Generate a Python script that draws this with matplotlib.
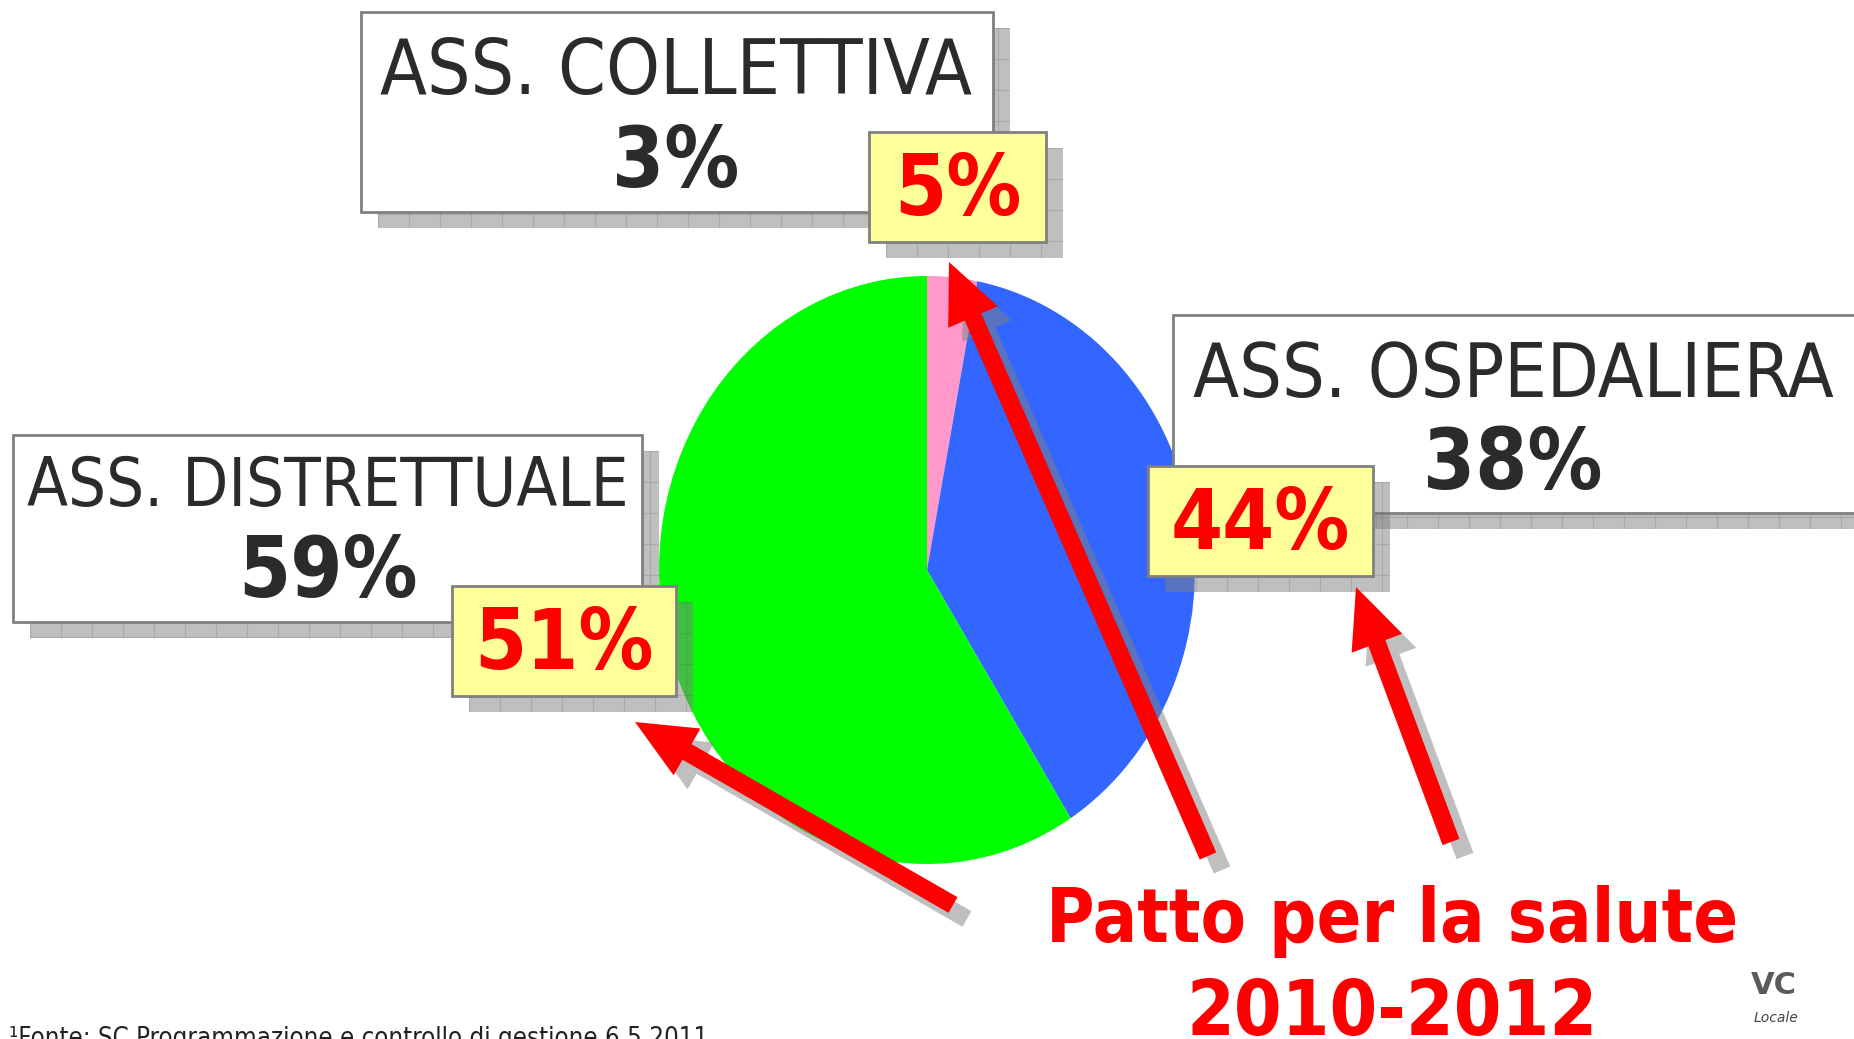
import matplotlib.pyplot as plt
import matplotlib.patches as mpatches
import numpy as np

# dati
categorie = ["ASS. COLLETTIVA", "ASS. OSPEDALIERA", "ASS. DISTRETTUALE"]
quota_attuale = [3, 38, 59]
quota_patto = [5, 44, 51]
colori = ["#ff99cc", "#3366ff", "#00ff00"]
titolo_patto = ["Patto per la salute", "2010-2012"]
nota = "\u00b9Fonte: SC Programmazione e controllo di gestione 6.5.2011"

W, H = 1854, 1039
fig = plt.figure(figsize=(W / 100, H / 100), dpi=100)
FONT = dict(family="DejaVu Sans", stretch="condensed")

# torta (leggermente ovale come nell'originale)
cx, cy, rx, ry = 927, 570, 268, 294
ax_pie = fig.add_axes([(cx - rx) / W, (H - cy - ry) / H, 2 * rx / W, 2 * ry / H], zorder=1)
ax_pie.pie(quota_attuale, colors=colori, startangle=90, counterclock=False,
           wedgeprops=dict(linewidth=0))
ax_pie.set_aspect('auto')
ax_pie.set_xlim(-1, 1)
ax_pie.set_ylim(-1, 1)
ax_pie.axis('off')

# livello sopra in pixel
ax = fig.add_axes([0, 0, 1, 1], zorder=2)
ax.set_xlim(0, W)
ax.set_ylim(H, 0)
ax.axis('off')


def box(x0, y0, x1, y1, face, z, dx=17, dy=16):
    sh = mpatches.Rectangle((x0 + dx, y0 + dy), x1 - x0, y1 - y0, fc='#808080',
                            alpha=0.5, lw=0, zorder=z)
    ax.add_patch(sh)
    for gx in np.arange(x0 + dx, x1 + dx, 31):
        ln, = ax.plot([gx, gx], [y0 + dy, y1 + dy], color='#505050', lw=0.8, alpha=0.18, zorder=z)
        ln.set_clip_path(sh)
    for gy in np.arange(y0 + dy, y1 + dy, 31):
        ln, = ax.plot([x0 + dx, x1 + dx], [gy, gy], color='#505050', lw=0.8, alpha=0.18, zorder=z)
        ln.set_clip_path(sh)
    ax.add_patch(mpatches.Rectangle((x0, y0), x1 - x0, y1 - y0, fc=face, ec='#808080',
                                    lw=2, zorder=z + 0.1))


def freccia(x0, y0, x1, y1):
    for (ox, oy), col, a, z in [((14, 14), '#808080', 0.5, 8), ((0, 0), '#ff0000', 1, 9)]:
        ax.add_patch(mpatches.FancyArrow(x0 + ox, y0 + oy, x1 - x0, y1 - y0, width=18,
                                         head_width=54, head_length=60,
                                         length_includes_head=True, fc=col, ec='none',
                                         alpha=a, zorder=z))


# riquadri bianchi (valori attuali)
box_bianchi = [(361, 12, 993, 212), (1173, 315, 1890, 513), (13, 435, 642, 622)]
pos_testo = [(676, 73, 163), (1513, 376, 466), (328, 487, 573)]
size_nome = [55, 54, 48]
for (x0, y0, x1, y1), (tx, ty1, ty2), fs, nome, v in zip(box_bianchi, pos_testo, size_nome,
                                                         categorie, quota_attuale):
    box(x0, y0, x1, y1, 'white', 3)
    ax.text(tx, ty1, nome, ha='center', va='center', fontsize=fs, color='#2b2b2b',
            zorder=3.2, **FONT)
    ax.text(tx, ty2, f"{v}%", ha='center', va='center', fontsize=60, color='#2b2b2b',
            fontweight='bold', zorder=3.2, **FONT)

# riquadri gialli (patto per la salute)
box_gialli = [(869, 132, 1046, 242), (1148, 466, 1373, 576), (452, 586, 676, 696)]
for (x0, y0, x1, y1), v in zip(box_gialli, quota_patto):
    box(x0, y0, x1, y1, '#ffff99', 5)
    ax.text((x0 + x1) / 2, (y0 + y1) / 2 + 4, f"{v}%", ha='center', va='center',
            fontsize=60, color='#ff0000', fontweight='bold', zorder=5.2, **FONT)

# frecce
freccia(1208, 856, 949, 262)
freccia(1451, 842, 1356, 587)
freccia(953, 905, 635, 722)

ax.text(1392, 921, titolo_patto[0], ha='center', va='center', fontsize=53,
        color='#ff0000', fontweight='bold', zorder=10, **FONT)
ax.text(1392, 1014, titolo_patto[1], ha='center', va='center', fontsize=55,
        color='#ff0000', fontweight='bold', zorder=10, **FONT)

ax.text(9, 1026, nota, ha='left', va='top', fontsize=18.5, color='#222222', zorder=10, **FONT)
ax.text(1774, 985, "VC", ha='center', va='center', fontsize=22, color='#5a5a5a',
        fontweight='bold', zorder=10)
ax.text(1776, 1018, "Locale", ha='center', va='center', fontsize=10, color='#444444',
        fontstyle='italic', zorder=10)

fig.savefig("out.png", dpi=100)
